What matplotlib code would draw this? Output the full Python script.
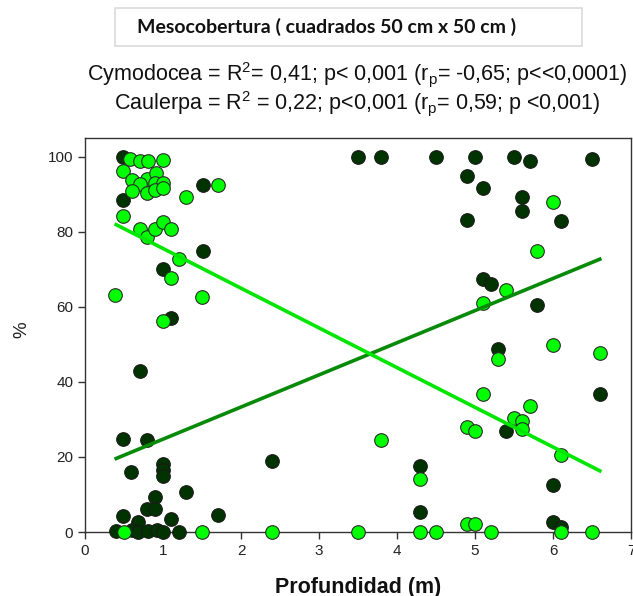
import matplotlib
matplotlib.use("Agg")
import matplotlib.pyplot as plt
from matplotlib.patches import Rectangle

# depth (m) and cover (%)
caulerpa_x = [0.49, 0.49, 1.51, 1.51, 1.0, 1.1, 0.7, 0.49, 0.8, 0.59, 1.0, 1.0, 1.0,
              1.29, 0.9, 0.79, 0.9, 0.49, 1.7, 0.68, 1.1, 0.4, 0.6, 0.68, 0.81, 0.92,
              1.0, 1.2, 2.4,
              3.5, 3.8, 4.5, 5.0, 5.5, 5.7, 6.5, 4.9, 5.1, 5.6, 5.6, 4.9, 6.1, 5.1,
              5.2, 5.8, 5.3, 6.6, 5.4, 4.3, 6.0, 4.3, 6.0, 6.1]
caulerpa_y = [100, 88.4, 92.4, 74.8, 70, 57, 43, 24.9, 24.5, 16.1, 18.1, 16.5, 14.9,
              10.7, 9.2, 6, 6, 4.3, 4.5, 2.7, 3.4, 0.3, 0.5, 0, 0.3, 0.5,
              0, 0, 18.9,
              100, 100, 100, 100, 100, 98.9, 99.3, 94.9, 91.6, 89.3, 85.5, 83.1, 82.9, 67.5,
              66, 60.6, 48.8, 36.7, 26.9, 17.6, 12.5, 5.3, 2.7, 1.4]

cymodocea_x = [0.58, 0.7, 0.81, 1.0, 0.49, 0.6, 0.79, 0.91, 0.71, 0.9, 1.0, 0.6, 0.79,
               0.9, 1.0, 1.7, 1.3, 0.49, 0.7, 0.8, 0.9, 1.0, 1.1, 1.2, 1.1, 0.39, 1.5,
               1.0, 0.5, 1.5, 2.4,
               6.0, 5.8, 5.4, 5.1, 6.0, 6.6, 5.3, 5.1, 5.7, 5.5, 5.6, 5.6, 4.9, 5.0,
               3.8, 6.1, 4.3, 3.5, 4.3, 4.5, 4.9, 5.0, 5.2, 6.1, 6.5]
cymodocea_y = [99.4, 99, 99, 99.2, 96.1, 93.7, 94, 95.6, 92.8, 93, 93, 90.8, 90.3,
               91.2, 91.6, 92.5, 89.2, 84.1, 80.7, 78.6, 80.7, 82.5, 80.7, 72.7, 67.6, 63.2, 62.6,
               56.1, 0, 0, 0,
               88, 74.8, 64.4, 61, 49.8, 47.8, 46, 36.9, 33.5, 30.3, 29.7, 27.5, 28, 26.9,
               24.6, 20.4, 14.1, 0, 0, 0, 2, 2, 0, 0, 0]

# regression lines (ends)
fit_x = [0.4, 6.6]
cymodocea_fit = [81.9, 16.3]
caulerpa_fit = [19.6, 72.7]

title = "Mesocobertura ( cuadrados 50 cm x 50 cm )"
stats_cymo = "Cymodocea = R$^2$= 0,41; p< 0,001 (r$_\\mathregular{p}$= -0,65; p<<0,0001)"
stats_caul = "Caulerpa = R$^2$ = 0,22; p<0,001 (r$_\\mathregular{p}$= 0,59; p <0,001)"

plt.rcParams['font.family'] = ['Liberation Sans', 'DejaVu Sans']
plt.rcParams['mathtext.fontset'] = 'custom'
plt.rcParams['mathtext.rm'] = 'Liberation Sans'
plt.rcParams['mathtext.it'] = 'Liberation Sans'

W, H = 633, 596
fig = plt.figure(figsize=(W / 100, H / 100), dpi=100)
ax = fig.add_axes([85 / W, 64 / H, 546 / W, 394 / H])

dark = '#003300'
light = '#00ff00'

ax.plot(caulerpa_x, caulerpa_y, 'o', ms=9.8, mfc=dark, mec='#1a1a1a', mew=0.8,
        clip_on=False, zorder=3)
ax.plot(cymodocea_x, cymodocea_y, 'o', ms=9.8, mfc=light, mec='#2a2a2a', mew=0.8,
        clip_on=False, zorder=3)
ax.plot(fit_x, caulerpa_fit, color='#078a07', lw=2.6, zorder=4)
ax.plot(fit_x, cymodocea_fit, color='#00e600', lw=2.6, zorder=5)

ax.set_xlim(0, 7)
ax.set_ylim(0, 105)
ax.set_xticks(range(0, 8))
ax.set_yticks(range(0, 101, 20))
ax.tick_params(direction='out', length=5, width=1, labelsize=11,
               colors='#333333', labelcolor='#222222')
for s in ax.spines.values():
    s.set_color('#333333')
    s.set_linewidth(1)

fig.text(22 / W, 1 - 330 / H, '%', rotation=90, ha='center', va='center',
         fontsize=13.5, color='#222222')
fig.text(358 / W, 1 - 588 / H, 'Profundidad (m)', ha='center', va='center',
         fontsize=15.5, fontweight='bold', color='#111111')

# title box
fig.patches.append(Rectangle((115 / W, 1 - 46 / H), 467 / W, 38 / H,
                             transform=fig.transFigure, facecolor='white',
                             edgecolor='#dadada', lw=1.2))
fig.text(327 / W, 1 - 27 / H, title, ha='center', va='center', fontsize=14,
         fontweight='bold', family=['Lato', 'DejaVu Sans'], color='#111111')
fig.text(357 / W, 1 - 75 / H, stats_cymo, ha='center', va='center',
         fontsize=15.5, color='#111111')
fig.text(357 / W, 1 - 104 / H, stats_caul, ha='center', va='center',
         fontsize=15.5, color='#111111')

fig.savefig('out.png', dpi=100)
